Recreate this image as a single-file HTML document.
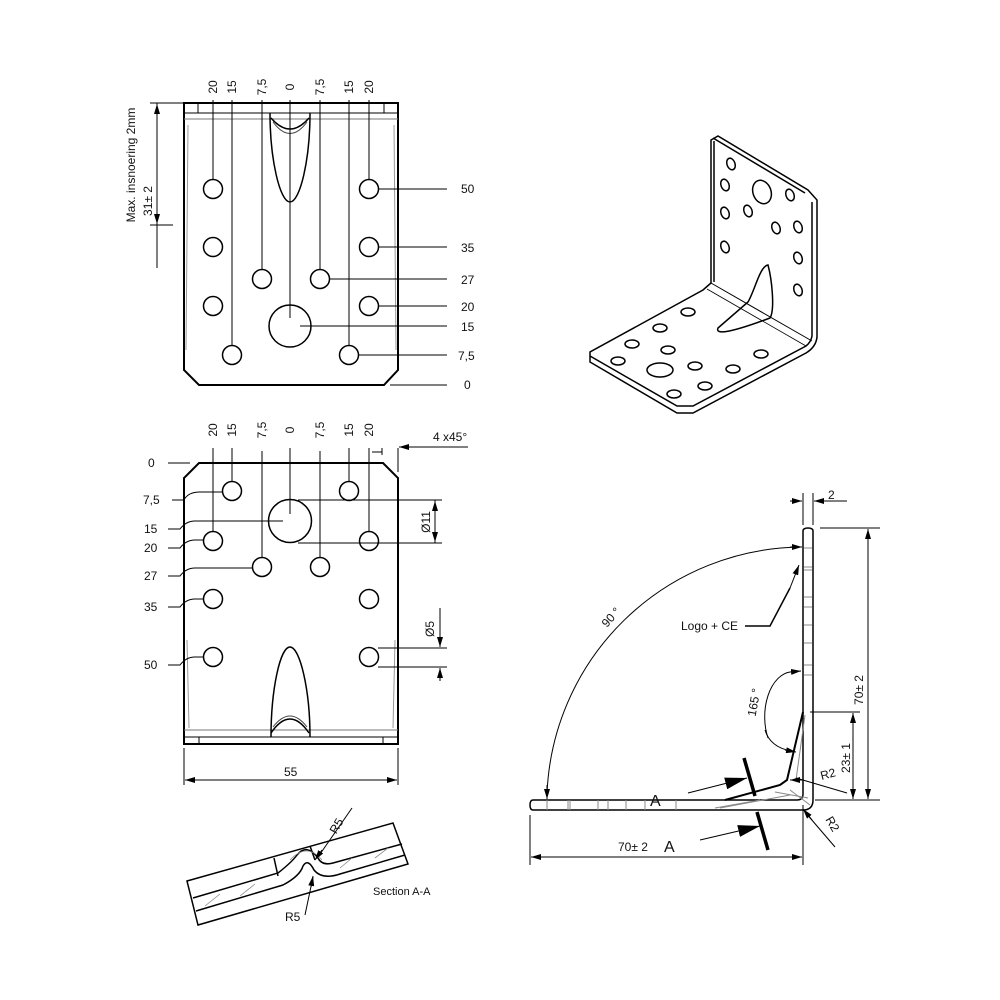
<!DOCTYPE html>
<html><head><meta charset="utf-8"><style>
html,body{margin:0;padding:0;background:#fff}
svg{display:block}
text{font-family:"Liberation Sans",sans-serif;font-size:12px;fill:#111}
</style></head><body>
<svg width="1000" height="1000" viewBox="0 0 1000 1000" xmlns="http://www.w3.org/2000/svg">
<defs>
<marker id="ar" markerWidth="10" markerHeight="6" refX="10" refY="3" orient="auto" markerUnits="userSpaceOnUse"><path d="M0,0 L10,3 L0,6z" fill="#000"/></marker>
<marker id="ab" markerWidth="22" markerHeight="12" refX="22" refY="6" orient="auto" markerUnits="userSpaceOnUse"><path d="M0,0 L22,6 L0,12z" fill="#000"/></marker>
</defs>
<g fill="none" stroke="#000" stroke-width="1">

<!-- TOP VIEW -->
<path d="M184,103 H398 V370 L384,385 H199 L184,370 Z" stroke-width="2"/>
<line x1="184" y1="113" x2="398" y2="113"/>
<line x1="184" y1="119" x2="398" y2="119" stroke="#777"/>
<line x1="198" y1="103" x2="198" y2="113"/><line x1="384" y1="103" x2="384" y2="113"/>
<line x1="188" y1="125" x2="186" y2="350" stroke="#999"/><line x1="394" y1="125" x2="396" y2="350" stroke="#999"/>
<path d="M270,113 C270,160 280,202 290,202 C300,202 310,160 310,113" stroke-width="1.5"/>
<path d="M271,118 Q290,140 309,118" stroke-width="1.5"/>
<path d="M273,122 Q290,145 307,122" stroke="#444"/>
<g stroke-width="1.5">
<circle cx="213" cy="189" r="9.5"/><circle cx="369" cy="189" r="9.5"/>
<circle cx="213" cy="247" r="9.5"/><circle cx="369" cy="247" r="9.5"/>
<circle cx="262" cy="279" r="9.5"/><circle cx="320" cy="279" r="9.5"/>
<circle cx="213" cy="306" r="9.5"/><circle cx="369" cy="306" r="9.5"/>
<circle cx="290" cy="326" r="21"/>
<circle cx="232" cy="355" r="9.5"/><circle cx="349" cy="355" r="9.5"/>
</g>
<line x1="213" y1="100" x2="213" y2="180"/><line x1="232" y1="100" x2="232" y2="346"/>
<line x1="262" y1="100" x2="262" y2="270"/><line x1="290" y1="100" x2="290" y2="318"/>
<line x1="320" y1="100" x2="320" y2="270"/><line x1="349" y1="100" x2="349" y2="346"/>
<line x1="369" y1="100" x2="369" y2="180"/>
<line x1="378" y1="189" x2="447" y2="189"/><line x1="378" y1="247" x2="447" y2="247"/>
<line x1="329" y1="279" x2="447" y2="279"/><line x1="378" y1="306" x2="447" y2="306"/>
<line x1="300" y1="326" x2="447" y2="326"/><line x1="358" y1="355" x2="447" y2="355"/>
<line x1="390" y1="385" x2="447" y2="385"/>
<line x1="150" y1="103" x2="184" y2="103"/>
<line x1="157" y1="103" x2="157" y2="268"/>
<line x1="157" y1="125" x2="157" y2="104" marker-end="url(#ar)"/>
<line x1="157" y1="205" x2="157" y2="224" marker-end="url(#ar)"/>
<line x1="150" y1="225" x2="173" y2="225"/>

<!-- MIDDLE VIEW -->
<path d="M199,463 H383 L398,478 V744 H184 V478 Z" stroke-width="2"/>
<line x1="184" y1="737" x2="398" y2="737"/>
<line x1="184" y1="730" x2="398" y2="730" stroke="#777"/>
<line x1="199" y1="737" x2="199" y2="744"/><line x1="383" y1="737" x2="383" y2="744"/>
<line x1="187" y1="640" x2="189" y2="728" stroke="#999"/><line x1="395" y1="640" x2="393" y2="728" stroke="#999"/>
<path d="M271,737 C271,690 280,647 290,647 C300,647 310,690 310,737" stroke-width="1.5"/>
<path d="M271,733 Q290,705 309,733" stroke-width="1.5"/>
<path d="M273,727 Q290,705 307,727" stroke="#444"/>
<g stroke-width="1.5">
<circle cx="232" cy="491" r="9.5"/><circle cx="349" cy="491" r="9.5"/>
<circle cx="290" cy="521" r="21.5"/>
<circle cx="213" cy="541" r="9.5"/><circle cx="369" cy="541" r="9.5"/>
<circle cx="262" cy="567" r="9.5"/><circle cx="320" cy="567" r="9.5"/>
<circle cx="213" cy="599" r="9.5"/><circle cx="369" cy="599" r="9.5"/>
<circle cx="213" cy="657" r="9.5"/><circle cx="369" cy="657" r="9.5"/>
</g>
<line x1="213" y1="448" x2="213" y2="532"/><line x1="232" y1="448" x2="232" y2="482"/>
<line x1="262" y1="451" x2="262" y2="558"/><line x1="290" y1="448" x2="290" y2="514"/>
<line x1="320" y1="451" x2="320" y2="558"/><line x1="349" y1="448" x2="349" y2="482"/>
<line x1="369" y1="448" x2="369" y2="532"/>
<line x1="168" y1="463" x2="190" y2="463"/>
<path d="M172,500 H184 Q188,492 200,492 H222"/>
<path d="M168,529 H180 Q186,521 195,521 H283"/>
<path d="M168,548 H180 Q186,540 195,540 H203"/>
<path d="M168,576 H180 Q186,568 195,568 H252"/>
<path d="M168,607 H180 Q186,599 195,599 H203"/>
<path d="M168,665 H180 Q186,657 195,657 H203"/>
<line x1="298" y1="500" x2="442" y2="500"/><line x1="298" y1="543" x2="442" y2="543"/>
<line x1="435" y1="500" x2="435" y2="543"/>
<line x1="435" y1="520" x2="435" y2="501" marker-end="url(#ar)"/>
<line x1="435" y1="524" x2="435" y2="542" marker-end="url(#ar)"/>
<line x1="378" y1="648" x2="447" y2="648"/><line x1="378" y1="667" x2="447" y2="667"/>
<line x1="440" y1="608" x2="440" y2="647" marker-end="url(#ar)"/>
<line x1="440" y1="681" x2="440" y2="668" marker-end="url(#ar)"/>
<line x1="382" y1="448" x2="382" y2="455"/><line x1="382" y1="452" x2="372" y2="452"/>
<line x1="398" y1="448" x2="398" y2="472"/>
<line x1="468" y1="447" x2="399" y2="447" marker-end="url(#ar)"/>
<line x1="184" y1="748" x2="184" y2="785"/><line x1="398" y1="748" x2="398" y2="785"/>
<line x1="195" y1="780" x2="185" y2="780" marker-end="url(#ar)"/>
<line x1="195" y1="780" x2="387" y2="780"/>
<line x1="387" y1="780" x2="397" y2="780" marker-end="url(#ar)"/>

<!-- ISO VIEW -->
<g stroke-width="1.5">
<path d="M711,140 L718,136 L808,190 L817,200 L817,337 Q816,347 806,353 L693,413 L677,413 L590,362 L590,352 L703,290 L711,283 Z"/>
<path d="M714,141 V282 M713,138 L805,193"/>
<path d="M590,356 L677,406 L693,406 L806,346 Q811,342 812,336 V202"/>
<line x1="711" y1="283" x2="812" y2="341" stroke-width="1"/>
<line x1="707" y1="289" x2="806" y2="346" stroke-width="0.8"/>
<path d="M768,265 C760,266 755,290 748,302 L718,328 C715,335 730,333 770,318 C775,310 772,280 768,265 Z"/>
<ellipse cx="731" cy="164" rx="4" ry="6" transform="rotate(-20 731 164)"/>
<ellipse cx="725" cy="185" rx="4" ry="6" transform="rotate(-20 725 185)"/>
<ellipse cx="725" cy="213" rx="4" ry="6" transform="rotate(-20 725 213)"/>
<ellipse cx="725" cy="247" rx="4" ry="6" transform="rotate(-20 725 247)"/>
<ellipse cx="762" cy="192" rx="9" ry="12" transform="rotate(-20 762 192)"/>
<ellipse cx="748" cy="211" rx="4" ry="6" transform="rotate(-20 748 211)"/>
<ellipse cx="790" cy="195" rx="4" ry="6" transform="rotate(-20 790 195)"/>
<ellipse cx="776" cy="228" rx="4" ry="6" transform="rotate(-20 776 228)"/>
<ellipse cx="798" cy="227" rx="4" ry="6" transform="rotate(-20 798 227)"/>
<ellipse cx="798" cy="258" rx="4" ry="6" transform="rotate(-20 798 258)"/>
<ellipse cx="798" cy="290" rx="4" ry="6" transform="rotate(-20 798 290)"/>
<ellipse cx="688" cy="312" rx="7" ry="4"/>
<ellipse cx="660" cy="328" rx="7" ry="4"/>
<ellipse cx="632" cy="344" rx="7" ry="4"/>
<ellipse cx="668" cy="350" rx="7" ry="4"/>
<ellipse cx="618" cy="361" rx="7" ry="4"/>
<ellipse cx="660" cy="370" rx="13" ry="7"/>
<ellipse cx="695" cy="366" rx="7" ry="4"/>
<ellipse cx="733" cy="369" rx="7" ry="4"/>
<ellipse cx="761" cy="354" rx="7" ry="4"/>
<ellipse cx="705" cy="386" rx="7" ry="4"/>
<ellipse cx="674" cy="394" rx="7" ry="4"/>
</g>

<!-- SIDE VIEW -->
<g stroke-width="1.5">
<path d="M803,531 Q803,528 808,528 Q813,528 813,531 V800 Q813,810 803,810 H533 Q530,810 530,805 Q530,800 533,800 H797 Q803,800 803,794 Z"/>
</g>
<g stroke="#888">
<line x1="804" y1="548" x2="812" y2="548"/><line x1="804" y1="567" x2="812" y2="567"/>
<line x1="804" y1="570" x2="812" y2="570"/><line x1="804" y1="597" x2="812" y2="597"/>
<line x1="804" y1="607" x2="812" y2="607"/><line x1="804" y1="625" x2="812" y2="625"/>
<line x1="804" y1="643" x2="812" y2="643"/><line x1="804" y1="665" x2="812" y2="665"/>
<line x1="804" y1="675" x2="812" y2="675"/>
<line x1="547" y1="800" x2="547" y2="810"/><line x1="568" y1="800" x2="568" y2="810"/>
<line x1="570" y1="800" x2="570" y2="810"/><line x1="598" y1="800" x2="598" y2="810"/>
<line x1="608" y1="800" x2="608" y2="810"/><line x1="626" y1="800" x2="626" y2="810"/>
<line x1="645" y1="800" x2="645" y2="810"/><line x1="676" y1="800" x2="676" y2="810"/>
<line x1="715" y1="808" x2="760" y2="800"/><line x1="720" y1="808" x2="790" y2="795"/>
<line x1="805" y1="715" x2="796" y2="780"/><line x1="790" y1="790" x2="810" y2="805"/>
<line x1="775" y1="792" x2="808" y2="798"/>
</g>
<path d="M803,712 L787,780 L780,785 L725,800" stroke-width="2"/>
<line x1="803" y1="493" x2="803" y2="525"/><line x1="813" y1="493" x2="813" y2="525"/>
<line x1="790" y1="501" x2="802" y2="501" marker-end="url(#ar)"/>
<line x1="847" y1="501" x2="814" y2="501" marker-end="url(#ar)"/>
<line x1="820" y1="528" x2="880" y2="528"/>
<line x1="868" y1="540" x2="868" y2="529" marker-end="url(#ar)"/>
<line x1="868" y1="540" x2="868" y2="788"/>
<line x1="868" y1="788" x2="868" y2="799" marker-end="url(#ar)"/>
<line x1="815" y1="800" x2="880" y2="800"/>
<line x1="810" y1="712" x2="860" y2="712"/>
<line x1="853" y1="724" x2="853" y2="713" marker-end="url(#ar)"/>
<line x1="853" y1="724" x2="853" y2="788"/>
<line x1="853" y1="788" x2="853" y2="799" marker-end="url(#ar)"/>
<line x1="530" y1="815" x2="530" y2="865"/><line x1="803" y1="805" x2="803" y2="865"/>
<line x1="543" y1="857" x2="531" y2="857" marker-end="url(#ar)"/>
<line x1="543" y1="857" x2="790" y2="857"/>
<line x1="790" y1="857" x2="802" y2="857" marker-end="url(#ar)"/>
<path d="M547,794 A257,257 0 0 1 800,547" />
<line x1="547" y1="785" x2="547" y2="799" marker-end="url(#ar)"/>
<line x1="790" y1="547" x2="802" y2="547" marker-end="url(#ar)"/>
<path d="M768,738 A28,45 0 0 1 790,672" />
<line x1="790" y1="672" x2="801" y2="671" marker-end="url(#ar)"/>
<path d="M765,730 Q770,747 791,751" />
<line x1="785" y1="750" x2="796" y2="752" marker-end="url(#ar)"/>
<path d="M745,626 H770 L790,588" stroke-width="1.5"/>
<line x1="790" y1="588" x2="799" y2="565" marker-end="url(#ar)"/>
<line x1="847" y1="793" x2="796" y2="778"/>
<line x1="803" y1="780" x2="790" y2="780" marker-end="url(#ar)"/>
<line x1="835" y1="847" x2="805" y2="812"/>
<line x1="812" y1="820" x2="803" y2="809" marker-end="url(#ar)"/>
<line x1="744" y1="758" x2="755" y2="796" stroke-width="3.5"/>
<line x1="757" y1="812" x2="768" y2="850" stroke-width="3.5"/>
<line x1="688" y1="793" x2="747" y2="778" marker-end="url(#ab)"/>
<line x1="700" y1="840" x2="760" y2="826" marker-end="url(#ab)"/>

<!-- SECTION A-A -->
<g stroke-width="1.5">
<path d="M187,881 L393,823 L408,864 L198,925 Z"/>
<path d="M193,898 L278,873 Q292,862 297,855 Q307,843 318,858 Q322,866 333,863 L402,844"/>
<path d="M196,911 L283,885 Q300,876 303,866 Q308,858 314,870 Q322,880 340,874 L405,855"/>
<line x1="274" y1="858" x2="278" y2="876"/><line x1="310" y1="846" x2="315" y2="860"/>
</g>
<g stroke="#888" stroke-width="0.8">
<line x1="205" y1="906" x2="220" y2="894"/><line x1="240" y1="896" x2="255" y2="884"/>
<line x1="340" y1="868" x2="352" y2="858"/><line x1="375" y1="858" x2="388" y2="848"/>
<path d="M290,860 Q307,842 322,860"/>
</g>
<line x1="352" y1="808" x2="318" y2="857"/>
<line x1="322" y1="850" x2="315" y2="860" marker-end="url(#ar)"/>
<line x1="305" y1="915" x2="313" y2="877"/>
<line x1="311" y1="887" x2="313" y2="876" marker-end="url(#ar)"/>
</g>

<!-- TEXT -->
<g text-anchor="middle">
<text transform="translate(217,87) rotate(-90)">20</text>
<text transform="translate(236,87) rotate(-90)">15</text>
<text transform="translate(266,87) rotate(-90)">7,5</text>
<text transform="translate(294,87) rotate(-90)">0</text>
<text transform="translate(324,87) rotate(-90)">7,5</text>
<text transform="translate(353,87) rotate(-90)">15</text>
<text transform="translate(373,87) rotate(-90)">20</text>
<text transform="translate(217,430) rotate(-90)">20</text>
<text transform="translate(236,430) rotate(-90)">15</text>
<text transform="translate(266,430) rotate(-90)">7,5</text>
<text transform="translate(294,430) rotate(-90)">0</text>
<text transform="translate(324,430) rotate(-90)">7,5</text>
<text transform="translate(353,430) rotate(-90)">15</text>
<text transform="translate(373,430) rotate(-90)">20</text>
<text transform="translate(135,165) rotate(-90)">Max. insnoering 2mm</text>
<text transform="translate(152,201) rotate(-90)">31± 2</text>
<text transform="translate(430,522) rotate(-90)">Ø11</text>
<text transform="translate(434,629) rotate(-90)">Ø5</text>
<text transform="translate(863,690) rotate(-90)">70± 2</text>
<text transform="translate(850,758) rotate(-90)">23± 1</text>
<text transform="translate(758,703) rotate(-80)">165 °</text>
<text transform="translate(614,620) rotate(-48)">90 °</text>
<text transform="translate(340,828) rotate(-60)">R5</text>
<text transform="translate(829,778) rotate(-15)">R2</text>
<text transform="translate(829,826) rotate(60)">R2</text>
</g>
<text x="461" y="193">50</text><text x="461" y="252">35</text>
<text x="461" y="284">27</text><text x="461" y="311">20</text>
<text x="461" y="331">15</text><text x="458" y="360">7,5</text>
<text x="464" y="389">0</text>
<text x="148" y="467">0</text><text x="143" y="504">7,5</text>
<text x="144" y="533">15</text><text x="144" y="552">20</text>
<text x="144" y="580">27</text><text x="144" y="611">35</text>
<text x="144" y="669">50</text>
<text x="433" y="441">4 x45°</text>
<text x="284" y="776">55</text>
<text x="828" y="499">2</text>
<text x="681" y="630">Logo + CE</text>
<text x="618" y="851">70± 2</text>
<text x="664" y="852" style="font-size:16px">A</text>
<text x="650" y="806" style="font-size:16px">A</text>
<text x="373" y="895" style="font-size:11px">Section A-A</text>
<text x="285" y="921">R5</text>
</svg>
</body></html>
